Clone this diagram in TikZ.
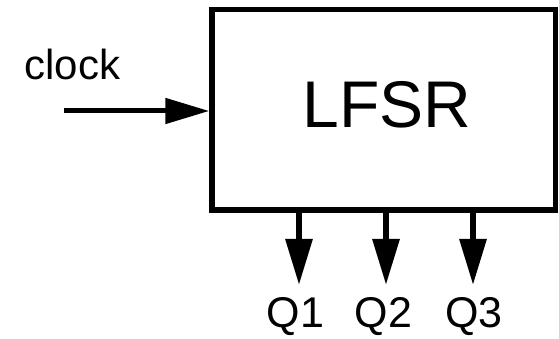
\documentclass[tikz,border=0pt]{standalone}
\usepackage{fontspec}
\setmainfont{Liberation Sans}
\usetikzlibrary{arrows.meta}
\begin{document}
\begin{tikzpicture}[x=1pt,y=1pt,
  blockbox/.style={draw=black,line width=5.5pt,minimum width=343.5pt,minimum height=200.5pt,inner sep=0pt},
  sig/.style={line width=6pt,-{Triangle[length=46pt,width=26pt]}},
  biglabel/.style={font=\fontsize{66}{74}\selectfont,inner sep=0pt},
  pinlabel/.style={font=\fontsize{43}{50}\selectfont,inner sep=0pt},
  clklabel/.style={font=\fontsize{42}{48}\selectfont,inner sep=0pt}]
  \useasboundingbox (0,0) rectangle (559,339);
  % register block
  \node[blockbox] (lfsr) at (383.75,229.25) {};
  \node[biglabel] (name) at (387,234) {LFSR};
  % clock input
  \coordinate (clkin) at (64,228);
  \node[clklabel,anchor=base] (clk) at (72.5,259) {clock};
  \draw[sig,line width=5pt,-{Triangle[length=44pt,width=25pt]}] (clkin) -- (clkin -| lfsr.west);
  % outputs
  \coordinate (t1) at (299,54);
  \coordinate (t2) at (386,54);
  \coordinate (t3) at (473,54);
  \draw[sig] (lfsr.south -| t1) -- (t1);
  \draw[sig] (lfsr.south -| t2) -- (t2);
  \draw[sig] (lfsr.south -| t3) -- (t3);
  \node[pinlabel] (q1) at (295.5,22) {Q1};
  \node[pinlabel] (q2) at (383.5,22) {Q2};
  \node[pinlabel] (q3) at (474,22) {Q3};
\end{tikzpicture}
\end{document}
